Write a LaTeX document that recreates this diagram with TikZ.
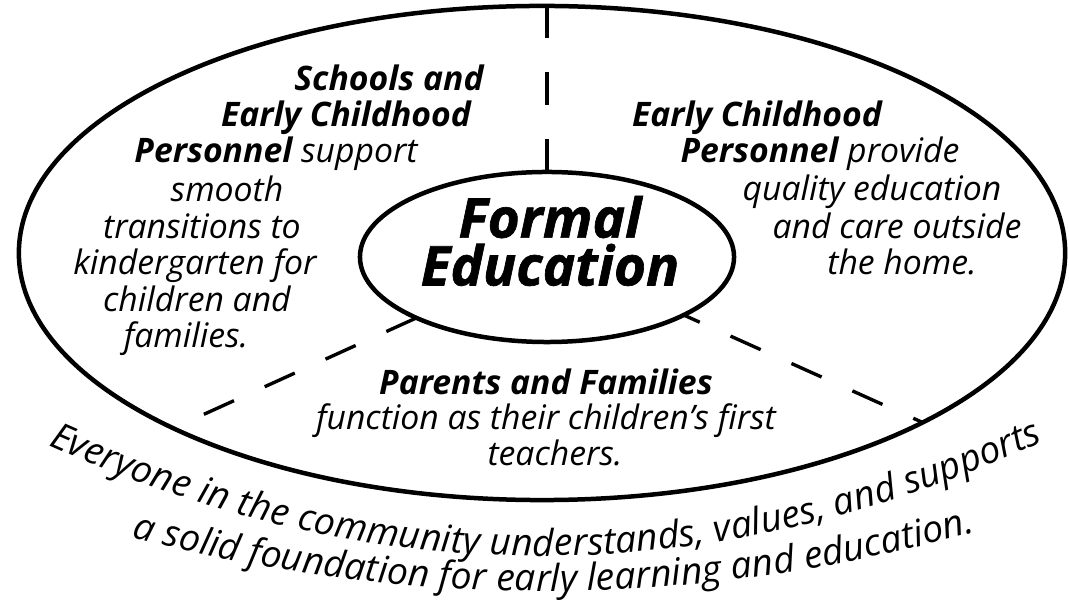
\documentclass[tikz,border=0pt]{standalone}
\usepackage{fontspec}
\setmainfont{Open Sans}
\usetikzlibrary{shapes.geometric,decorations.text}

\begin{document}
\begin{tikzpicture}[x=0.025cm, y=0.025cm,
    ring/.style={draw, ellipse, line width=3.2pt, inner sep=0pt, outer sep=0pt},
    divider/.style={line width=2.4pt, dash pattern=on 23.5pt off 24pt},
    body/.style={anchor=base, font=\fontsize{24}{29}\selectfont\itshape},
    hubtext/.style={align=center, font=\fontsize{39}{34}\selectfont\bfseries\itshape\addfontfeature{FakeBold=1.2}},
    curved/.style={decorate, decoration={text along path, text align={fit to path}, text={#1}}}]
    \useasboundingbox (0,0) rectangle (1069,611);

    % the two rings
    \node[ring, minimum width=26.15cm, minimum height=12.35cm] (outer) at (542,358) {};
    \node[ring, minimum width=9.35cm, minimum height=4.25cm] (formal) at (547,354) {};
    \node[hubtext] (formallabel) at (550,370) {Formal\\Education};

    % dashed dividers between the three groups
    \coordinate (leftend) at (198,194);
    \draw[divider] (formal.north) -- (formal.north |- outer.north);
    \draw[divider] (formal.-155) -- (leftend);
    \draw[divider, dash phase=11pt] (formal.-23) -- (outer.-24);

    % left part
    \foreach \txt/\x/\y [count=\i] in {
        {\bfseries Schools and}/389/520,
        {\bfseries Early Childhood}/346/484,
        {{\bfseries Personnel} support}/276/448,
        smooth/227/409,
        transitions to/202/372,
        kindergarten for/195/336,
        children and/197/299,
        families./186/263}
        \node[body] (left\i) at (\x,\y) {\txt};

    % right part
    \foreach \txt/\x/\y [count=\i] in {
        {\bfseries Early Childhood}/757/484,
        {{\bfseries Personnel} provide}/820/448,
        quality education/872/410,
        and care outside/897/372,
        the home./902/336}
        \node[body] (right\i) at (\x,\y) {\txt};

    % bottom part
    \foreach \txt/\x/\y [count=\i] in {
        {\bfseries Parents and Families}/546/216,
        function as their children’s first/546/181,
        teachers./555/146}
        \node[body] (bottom\i) at (\x,\y) {\txt};

    % text round the bottom
    \path[curved={|\fontsize{26.5}{30}\selectfont\itshape|Everyone in the community understands, values, and supports}]
        (48,166) .. controls (379,17) and (711,18) .. (1042,169);
    \path[curved={|\fontsize{26.5}{30}\selectfont\itshape|a solid foundation for early learning and education.}]
        (132,74) .. controls (413,0) and (694,2) .. (975,79);
\end{tikzpicture}
\end{document}
